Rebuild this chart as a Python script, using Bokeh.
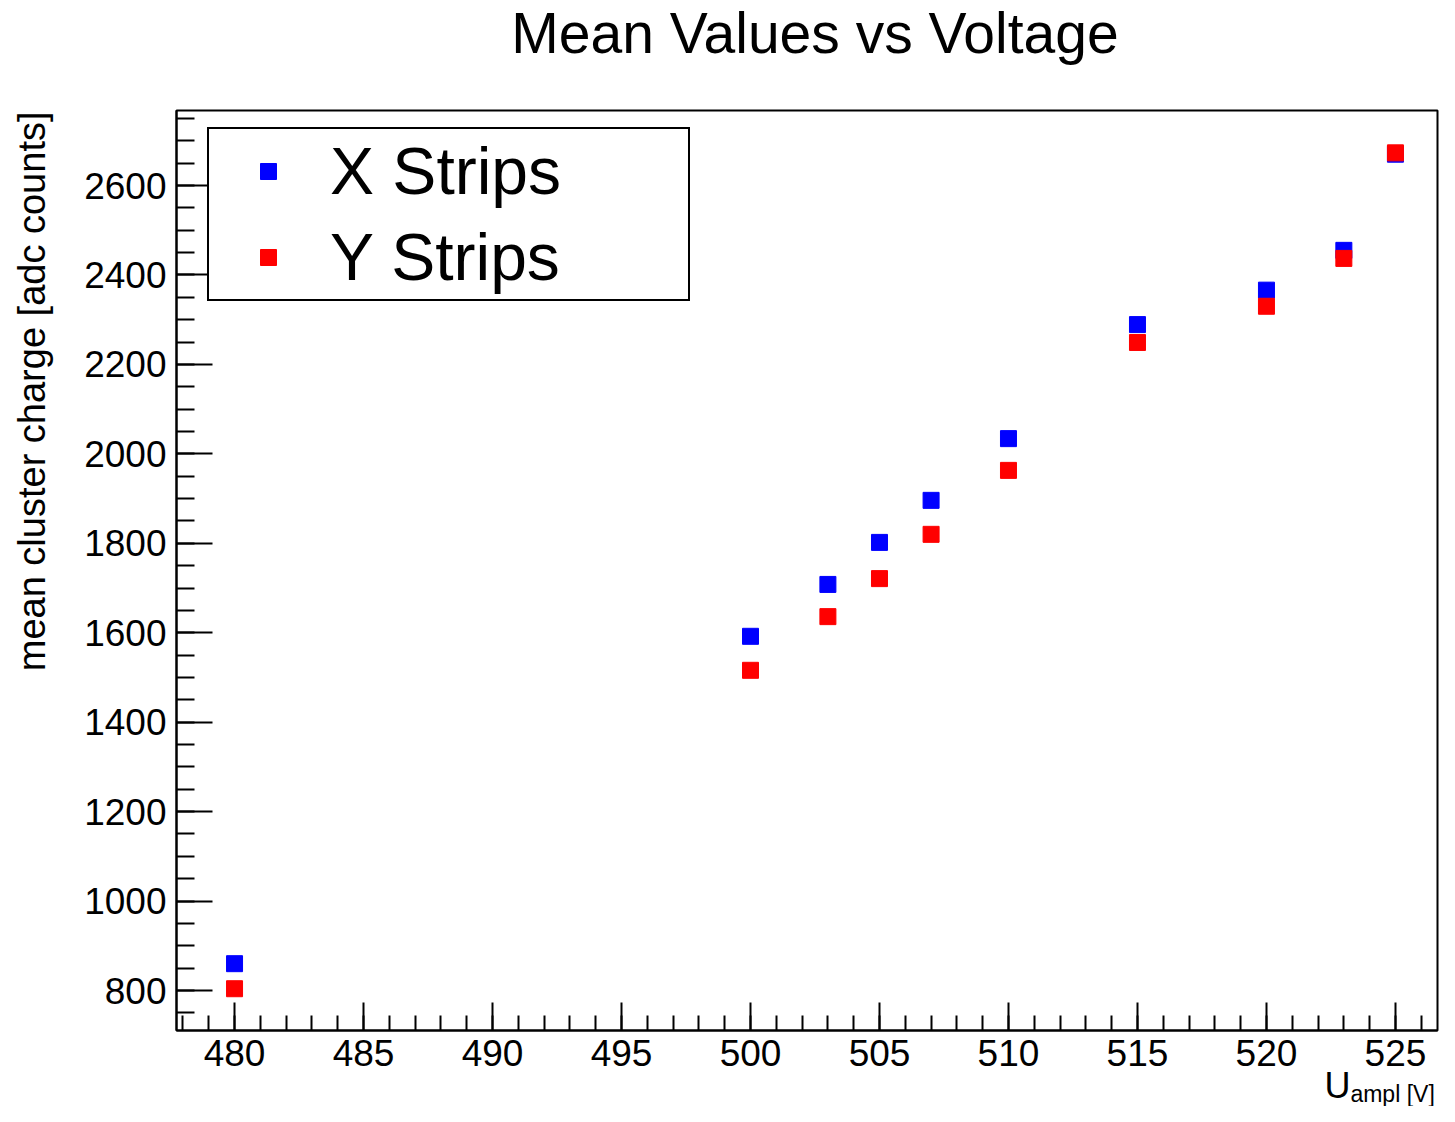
import math
from bokeh.plotting import figure
from bokeh.layouts import column, row
from bokeh.models import (Range1d, SingleIntervalTicker, Label, Legend, LegendItem)
from bokeh.embed import file_html
from bokeh.resources import INLINE

# ---- data ----
voltage = [480, 500, 503, 505, 507, 510, 515, 520, 523, 525]
x_strips = [860, 1592, 1708, 1802, 1896, 2034, 2289, 2366, 2455, 2670]
y_strips = [804, 1516, 1636, 1721, 1820, 1963, 2249, 2330, 2437, 2673]

title_text = "Mean Values vs Voltage"
y_label_text = "mean cluster charge [adc counts]"
x_label_main = "U"
x_label_sub = "ampl [V]"
series_names = ["X Strips", "Y Strips"]

FONT = "Liberation Sans"
X0, X1 = 477.75, 526.63
Y0, Y1 = 710.6, 2767.7
PX_PER_V = 25.8

TOTAL_W = 1439
TITLE_H = 106
FRAME_L, FRAME_R = 176, 2
TOP_B, FRAME_H, BOT_B = 4, 920, 52
MAIN_H = TOP_B + FRAME_H + BOT_B
YLAB_W = 70
STRIP_TOP = 1060
STRIP_H = 1106 - STRIP_TOP
STRIP_OVERLAP = TITLE_H + MAIN_H - STRIP_TOP


def mid_from_baseline(size):
    # Bokeh anchors text at the middle of its em box
    return 0.3465 * size


def blank_fig(w, h, xr, yr, **kw):
    f = figure(width=w, height=h, output_backend="svg", toolbar_location=None,
               x_range=xr, y_range=yr, background_fill_alpha=0, border_fill_alpha=0, **kw)
    f.axis.visible = False
    f.grid.visible = False
    f.outline_line_color = None
    return f


# ---- title strip (same horizontal frame as the plot) ----
tf = blank_fig(TOTAL_W, TITLE_H, Range1d(X0, X1), Range1d(0, TITLE_H),
               min_border_left=FRAME_L, min_border_right=FRAME_R, min_border_top=0, min_border_bottom=0)
tf.add_layout(Label(x=(477.75 + 527.25) / 2, y=TITLE_H - (52 - mid_from_baseline(57)),
                    text=title_text, text_font=FONT, text_font_size="57px",
                    text_align="center", text_baseline="middle", text_color="black"))

# ---- y label strip (same vertical frame as the plot) ----
yf = blank_fig(YLAB_W, MAIN_H, Range1d(0, YLAB_W), Range1d(0, FRAME_H),
               min_border_left=0, min_border_right=0, min_border_top=TOP_B, min_border_bottom=BOT_B)
yf.add_layout(Label(x=45 - mid_from_baseline(38), y=FRAME_H - 1, text=y_label_text, text_font=FONT,
                    text_font_size="38px", text_align="right", text_baseline="middle",
                    angle=math.pi / 2, text_color="black"))

# ---- main plot ----
p = figure(width=TOTAL_W - YLAB_W, height=MAIN_H, output_backend="svg", toolbar_location=None,
           x_range=Range1d(X0, X1), y_range=Range1d(Y0, Y1),
           min_border_left=FRAME_L - YLAB_W, min_border_right=FRAME_R, min_border_top=TOP_B,
           min_border_bottom=BOT_B, background_fill_color="white", border_fill_color="white")
p.grid.visible = False
p.outline_line_color = "black"
p.outline_line_width = 2

xa = p.xaxis[0]
xa.ticker = SingleIntervalTicker(interval=5, num_minor_ticks=5)
xa.major_tick_in = 28
xa.major_tick_out = 0
xa.minor_tick_in = 15
xa.minor_tick_out = 0
xa.major_label_standoff = 9
ya = p.yaxis[0]
ya.ticker = SingleIntervalTicker(interval=200, num_minor_ticks=4)
ya.major_tick_in = 36
ya.major_tick_out = 0
ya.minor_tick_in = 18
ya.minor_tick_out = 0
ya.major_label_standoff = 10
for ax in (xa, ya):
    ax.axis_line_color = "black"
    ax.axis_line_width = 2
    ax.major_tick_line_color = "black"
    ax.major_tick_line_width = 2
    ax.minor_tick_line_color = "black"
    ax.minor_tick_line_width = 2
    ax.major_label_text_font = FONT
    ax.major_label_text_font_size = "37px"
    ax.major_label_text_color = "black"

rx = p.scatter(voltage, x_strips, marker="square", size=16, fill_color="#0000ff", line_color="#0000ff")
ry = p.scatter(voltage, y_strips, marker="square", size=16, fill_color="#ff0000", line_color="#ff0000")

legend = Legend(items=[LegendItem(label=series_names[0], renderers=[rx]),
                       LegendItem(label=series_names[1], renderers=[ry])],
                location=(31, 729), padding=4, spacing=10, glyph_width=110, glyph_height=40,
                label_standoff=7, label_width=354, label_height=76,
                label_text_font=FONT, label_text_font_size="66px", label_text_color="black",
                border_line_color="black", border_line_width=2, border_line_alpha=1.0,
                background_fill_color="white", background_fill_alpha=1.0)
p.add_layout(legend)

# ---- x label strip (overlaps the tick-label band slightly, transparent) ----
xf = blank_fig(TOTAL_W, STRIP_H, Range1d(X0, X1), Range1d(0, STRIP_H),
               min_border_left=FRAME_L, min_border_right=FRAME_R, min_border_top=0, min_border_bottom=0,
               margin=(-STRIP_OVERLAP, 0, 0, 0))
u_left, u_base, u_size = 1324, 1097, 36
s_left, s_base, s_size = 1350, 1101, 23
xf.add_layout(Label(x=X0 + (u_left - FRAME_L) / PX_PER_V,
                    y=STRIP_H - (u_base - STRIP_TOP - mid_from_baseline(u_size)),
                    text=x_label_main, text_font=FONT, text_font_size=f"{u_size}px",
                    text_align="left", text_baseline="middle", text_color="black"))
xf.add_layout(Label(x=X0 + (s_left - FRAME_L) / PX_PER_V,
                    y=STRIP_H - (s_base - STRIP_TOP - mid_from_baseline(s_size)),
                    text=x_label_sub, text_font=FONT, text_font_size=f"{s_size}px",
                    text_align="left", text_baseline="middle", text_color="black"))

layout = column(tf, row(yf, p, spacing=0), xf, spacing=0)
open("out.html", "w").write(file_html(layout, INLINE))
